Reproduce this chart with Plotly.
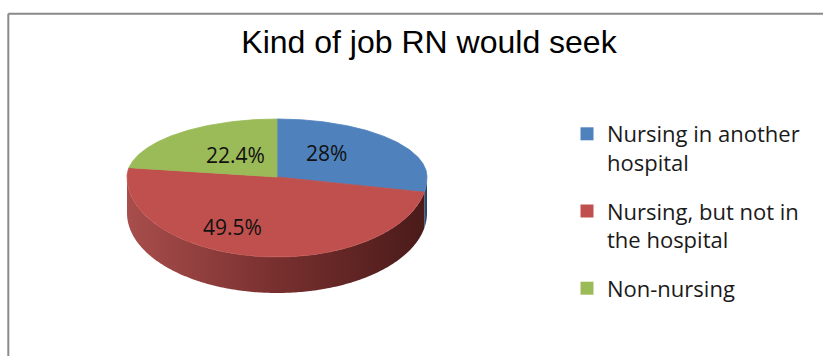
import numpy as np
import plotly.graph_objects as go

# ---- data ----
categories = ["Nursing in another hospital", "Nursing, but not in the hospital", "Non-nursing"]
legend_labels = ["Nursing in another<br>hospital", "Nursing, but not in<br>the hospital", "Non-nursing"]
values = [28, 49.5, 22.4]
value_labels = ["28%", "49.5%", "22.4%"]
title_text = "Kind of job RN would seek"

# ---- style ----
top_colors = ["#4f81bd", "#c0504d", "#9bbb59"]
wall_scales = [
    [[0, "#34557d"], [1, "#263f5c"]],
    [[0, "#a84e4c"], [0.5, "#78302f"], [1, "#4a1b1a"]],
    [[0, "#6d8a3c"], [1, "#46592a"]],
]
CX, CY = 277, 177          # pixel centre of the top face
RX, RY_BACK, RY_FRONT = 150, 58, 80
DEPTH = 36
# label anchors in normalised pie coordinates (layout only)
label_anchor = [(0.33, -0.42), (-0.30, 0.62), (-0.28, -0.38)]
W, H = 823, 356


def ellipse_xy(theta_deg, dy=0.0):
    t = np.radians(theta_deg)
    c = np.cos(t)
    ry = np.where(c > 0, RY_BACK, RY_FRONT)
    return CX + RX * np.sin(t), CY - ry * c + dy


vals = np.array(values, dtype=float)
bounds = np.concatenate([[0], np.cumsum(vals / vals.sum()) * 360])

fig = go.Figure()

# side walls (visible front half: 90..270 deg clockwise from 12 o'clock)
for i in range(len(vals)):
    lo, hi = max(bounds[i], 90), min(bounds[i + 1], 270)
    if lo >= hi:
        continue
    th = np.linspace(lo, hi, 200)
    xt, yt = ellipse_xy(th)
    xb, yb = ellipse_xy(th[::-1], DEPTH)
    fig.add_trace(go.Scatter(
        x=np.concatenate([xt, xb]), y=np.concatenate([yt, yb]),
        mode="none", fill="toself",
        fillgradient=dict(type="horizontal", colorscale=wall_scales[i]),
        showlegend=False, hoverinfo="skip"))

# top faces
for i in range(len(vals)):
    th = np.linspace(bounds[i], bounds[i + 1], 300)
    xs, ys = ellipse_xy(th)
    fig.add_trace(go.Scatter(
        x=np.concatenate([[CX], xs, [CX]]), y=np.concatenate([[CY], ys, [CY]]),
        mode="lines", fill="toself", fillcolor=top_colors[i],
        line=dict(color=top_colors[i], width=0.8),
        name=categories[i], showlegend=False, hoverinfo="skip"))

# data labels
for i, (u, v) in enumerate(label_anchor):
    ry = RY_BACK if v < 0 else RY_FRONT
    fig.add_annotation(x=CX + u * RX, y=CY + v * ry, text=value_labels[i],
                       showarrow=False, xanchor="center", yanchor="middle",
                       font=dict(family="Open Sans", size=21, color="#111111"))

# legend entries
for i in range(len(vals)):
    fig.add_trace(go.Scatter(
        x=[None], y=[None], mode="markers", name=legend_labels[i],
        legendgroup=str(i),
        marker=dict(symbol="square", size=13, color=top_colors[i])))

# chart frame
fig.add_shape(type="line", x0=8.3, x1=8.3, y0=13.7, y1=H + 5,
              line=dict(color="#8a8a8a", width=2))
fig.add_shape(type="line", x0=8.3, x1=W + 5, y0=13.7, y1=13.7,
              line=dict(color="#8a8a8a", width=2))

fig.update_layout(
    width=W, height=H,
    margin=dict(l=0, r=0, t=0, b=0),
    paper_bgcolor="white", plot_bgcolor="white",
    title=dict(text=title_text, x=429 / W, xanchor="center",
               y=1 - 42 / H, yanchor="middle",
               font=dict(family="Liberation Sans, Arial", size=32, color="#000000")),
    xaxis=dict(range=[0, W], visible=False, fixedrange=True),
    yaxis=dict(range=[H, 0], visible=False, fixedrange=True),
    showlegend=True,
    legend=dict(x=567 / W, y=1 - 113 / H, xanchor="left", yanchor="top",
                valign="top", tracegroupgap=17,
                bgcolor="rgba(0,0,0,0)",
                font=dict(family="Open Sans", size=22, color="#1a1a1a")),
)

fig.write_html("out.html")
